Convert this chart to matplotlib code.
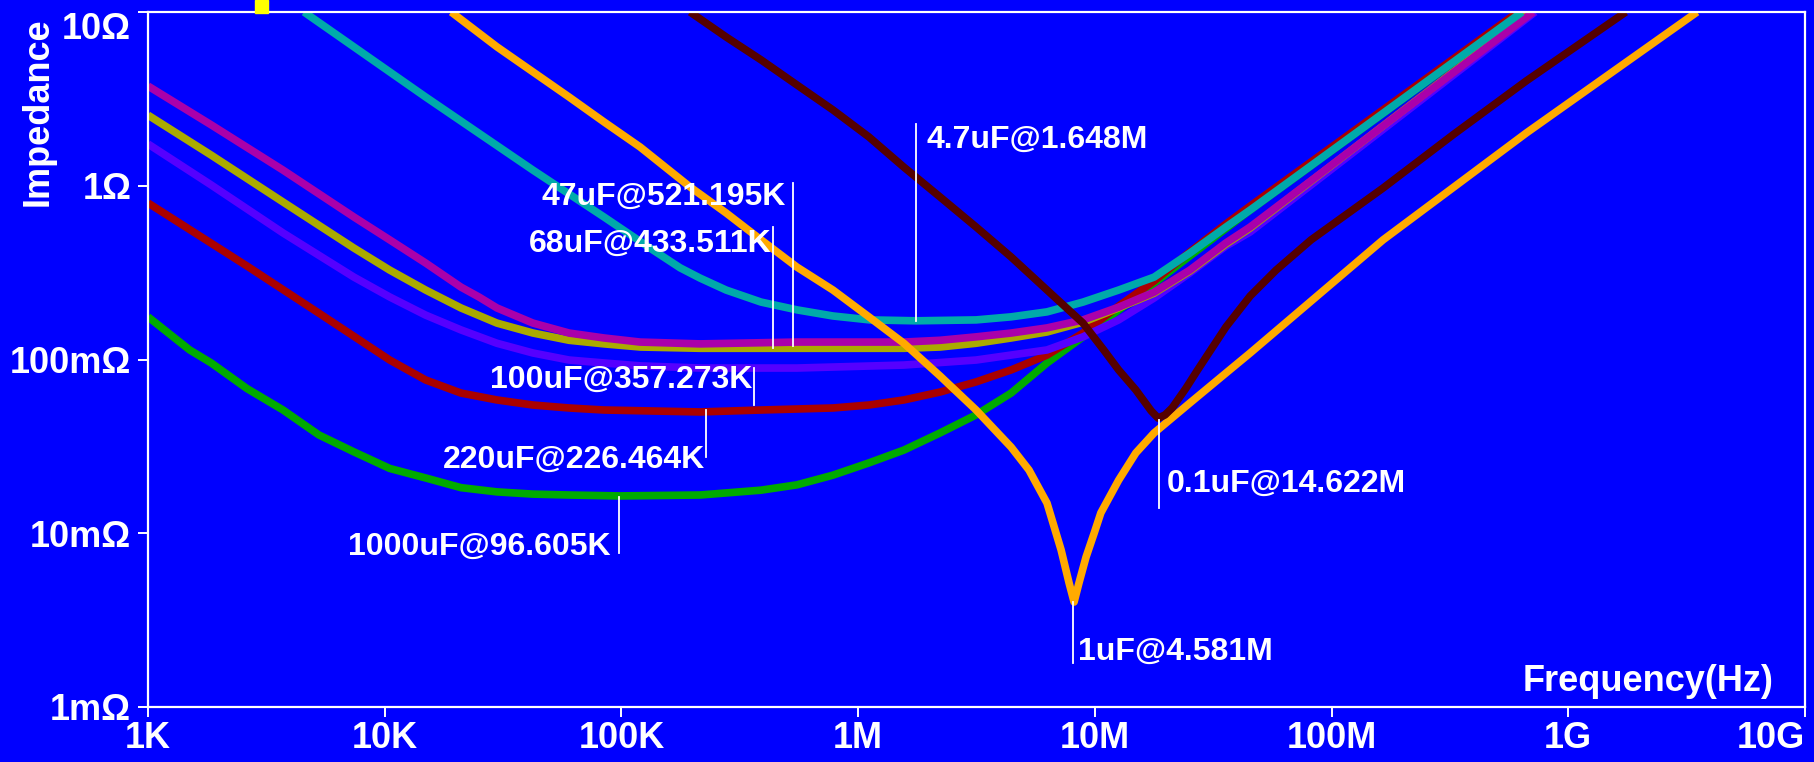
"""Capacitor impedance vs frequency, blue slide-style chart."""

import matplotlib
matplotlib.use("Agg")
import matplotlib.pyplot as plt
from matplotlib.patches import Rectangle
from matplotlib.ticker import FixedLocator, FixedFormatter, NullLocator

# ---- data (Hz, ohm) ----
f_1000u = [1.0e3, 1.5e3, 1.85e3, 2.62e3, 3.72e3, 5.27e3, 7.41e3, 1.05e4, 1.49e4, 2.10e4,
           2.98e4, 4.23e4, 6.01e4, 9.77e4, 2.15e5, 3.89e5, 5.52e5, 7.83e5, 1.11e6, 1.56e6,
           2.22e6, 3.15e6, 4.43e6, 6.28e6, 8.91e6, 1.57e7, 4.53e7, 6.38e8]
z_1000u = [0.176, 0.1135, 0.0955, 0.068, 0.0512, 0.0368, 0.0294, 0.0236, 0.0208, 0.0183,
           0.0173, 0.0168, 0.0166, 0.0164, 0.0166, 0.0177, 0.0190, 0.0216, 0.0254, 0.0301,
           0.0378, 0.048, 0.0641, 0.0955, 0.135, 0.241, 0.725, 10.0]

f_220u = [1.0e3, 2.62e3, 5.33e3, 7.41e3, 1.05e4, 1.49e4, 2.10e4, 2.98e4, 4.23e4, 6.01e4,
          8.44e4, 2.15e5, 3.89e5, 7.83e5, 1.11e6, 1.56e6, 2.22e6, 3.15e6, 4.43e6, 6.28e6,
          8.91e6, 1.26e7, 1.78e7, 2.52e7, 3.58e7, 4.53e7, 6.14e8]
z_220u = [0.796, 0.345, 0.183, 0.136, 0.0993, 0.0762, 0.0641, 0.0585, 0.0547, 0.0526,
          0.0512, 0.0499, 0.0512, 0.0526, 0.0547, 0.0585, 0.0650, 0.0743, 0.0871, 0.106,
          0.142, 0.203, 0.283, 0.416, 0.603, 0.764, 10.0]

f_100u = [1.0e3, 1.85e3, 3.72e3, 7.41e3, 1.05e4, 1.49e4, 2.10e4, 2.98e4, 4.23e4, 6.01e4,
          8.44e4, 1.20e5, 2.15e5, 5.52e5, 1.56e6, 3.15e6, 6.28e6, 8.91e6, 1.26e7, 1.78e7,
          2.52e7, 3.58e7, 4.53e7, 7.24e8]
z_100u = [1.74, 1.01, 0.535, 0.298, 0.229, 0.180, 0.148, 0.124, 0.109, 0.0993,
          0.0955, 0.0919, 0.0893, 0.0893, 0.0929, 0.0993, 0.1135, 0.135, 0.169, 0.226,
          0.315, 0.450, 0.542, 10.0]

f_68u = [1.0e3, 1.85e3, 3.72e3, 7.41e3, 1.05e4, 1.49e4, 2.10e4, 2.98e4, 4.23e4, 6.01e4,
         8.44e4, 1.20e5, 2.15e5, 1.56e6, 2.22e6, 3.15e6, 4.43e6, 6.28e6, 8.91e6, 1.26e7,
         1.78e7, 2.52e7, 3.58e7, 4.53e7, 6.97e8]
z_68u = [2.55, 1.50, 0.806, 0.438, 0.327, 0.251, 0.198, 0.162, 0.142, 0.129,
         0.123, 0.118, 0.116, 0.116, 0.118, 0.124, 0.133, 0.144, 0.164, 0.198,
         0.241, 0.323, 0.462, 0.571, 10.0]

f_47u = [1.0e3, 1.85e3, 3.72e3, 7.41e3, 1.05e4, 1.49e4, 2.10e4, 2.50e4, 2.98e4, 4.23e4,
         6.01e4, 8.44e4, 1.20e5, 2.15e5, 5.52e5, 1.56e6, 2.22e6, 3.15e6, 4.43e6, 6.28e6,
         8.91e6, 1.26e7, 1.78e7, 2.52e7, 3.58e7, 4.53e7, 7.10e8]
z_47u = [3.75, 2.24, 1.23, 0.661, 0.488, 0.359, 0.261, 0.229, 0.198, 0.162,
         0.142, 0.133, 0.126, 0.123, 0.126, 0.126, 0.129, 0.135, 0.142, 0.152,
         0.169, 0.200, 0.244, 0.327, 0.469, 0.579, 10.0]

f_4u7 = [4.56e3, 1.49e4, 4.23e4, 8.44e4, 1.32e5, 1.77e5, 2.15e5, 2.77e5, 3.89e5, 5.52e5,
         7.83e5, 1.12e6, 1.76e6, 3.15e6, 4.43e6, 6.28e6, 8.91e6, 1.26e7, 1.78e7, 2.52e7,
         3.58e7, 4.53e7, 6.38e8]
z_4u7 = [10.0, 3.24, 1.23, 0.661, 0.438, 0.337, 0.294, 0.251, 0.214, 0.193,
         0.178, 0.169, 0.167, 0.169, 0.176, 0.188, 0.214, 0.251, 0.298, 0.410,
         0.579, 0.725, 10.0]

f_1u = [1.91e4, 2.98e4, 4.23e4, 6.01e4, 8.44e4, 1.20e5, 1.95e5, 2.77e5, 3.89e5, 5.52e5,
        7.83e5, 1.11e6, 1.56e6, 2.22e6, 3.15e6, 4.43e6, 5.27e6, 6.28e6, 7.20e6, 7.78e6,
        8.17e6, 8.57e6, 9.18e6, 9.93e6, 1.06e7, 1.26e7, 1.49e7, 1.78e7, 2.52e7, 3.58e7,
        4.53e7, 1.65e8, 6.64e8, 3.50e9]
z_1u = [10.0, 6.30, 4.52, 3.24, 2.33, 1.67, 0.984, 0.697, 0.488, 0.340,
        0.251, 0.176, 0.124, 0.0803, 0.0512, 0.0313, 0.0231, 0.0149, 0.00802, 0.00518,
        0.00402, 0.00518, 0.00730, 0.0100, 0.0131, 0.0202, 0.0290, 0.0378, 0.0562, 0.0836,
        0.109, 0.488, 2.01, 10.0]

f_0u1 = [1.95e5, 2.77e5, 3.89e5, 5.52e5, 7.83e5, 1.11e6, 1.56e6, 2.22e6, 3.15e6, 4.43e6,
         6.28e6, 8.91e6, 1.09e7, 1.26e7, 1.49e7, 1.73e7, 1.85e7, 1.98e7, 2.12e7, 2.43e7,
         2.70e7, 3.01e7, 3.58e7, 4.53e7, 5.83e7, 8.19e7, 1.65e8, 3.30e8, 6.64e8, 1.75e9]
z_0u1 = [10.0, 7.18, 5.30, 3.80, 2.73, 1.91, 1.28, 0.861, 0.579, 0.389,
         0.251, 0.162, 0.1135, 0.0871, 0.0668, 0.0506, 0.0460, 0.0480, 0.0526, 0.0686,
         0.0859, 0.1076, 0.154, 0.232, 0.327, 0.488, 0.970, 1.99, 4.01, 10.0]

# resonance call-outs: text, line freq, line top/bottom, text anchor freq/Z, side
labels = ["4.7uF@1.648M", "47uF@521.195K", "68uF@433.511K", "100uF@357.273K",
          "220uF@226.464K", "1000uF@96.605K", "1uF@4.581M", "0.1uF@14.622M"]
label_f = [1.76e6, 5.31e5, 4.37e5, 3.63e5, 2.28e5, 9.77e4, 8.09e6, 1.87e7]
label_z_top = [2.26, 1.04, 0.579, 0.0893, 0.0512, 0.0162, 0.00402, 0.0449]
label_z_bot = [0.167, 0.120, 0.116, 0.0547, 0.0275, 0.00769, 0.00179, 0.0140]
text_f = [1.95e6, 4.96e5, 4.33e5, 3.58e5, 2.25e5, 9.04e4, 8.49e6, 2.02e7]
text_z = [1.83, 0.861, 0.463, 0.0762, 0.0264, 0.00834, 0.00208, 0.0192]
text_ha = ["left", "right", "right", "right", "right", "right", "left", "left"]

x_ticks = [1e3, 1e4, 1e5, 1e6, 1e7, 1e8, 1e9, 1e10]
x_ticklabels = ["1K", "10K", "100K", "1M", "10M", "100M", "1G", "10G"]
y_ticks = [1e-3, 1e-2, 1e-1, 1, 10]
y_ticklabels = ["1m\u03a9", "10m\u03a9", "100m\u03a9", "1\u03a9", "10\u03a9"]

BG = "#0000FF"
WHITE = "white"


def main():
    plt.rcParams.update({
        "font.family": ["Liberation Sans", "DejaVu Sans"],
        "font.weight": "bold",
    })

    fig = plt.figure(figsize=(18.14, 7.62), dpi=100, facecolor=BG)
    ax = fig.add_axes([148 / 1814, 1 - 707 / 762, 1657 / 1814, 695 / 762])
    ax.set_facecolor(BG)
    ax.set_xscale("log")
    ax.set_yscale("log")
    ax.set_xlim(1e3, 1e10)
    ax.set_ylim(1e-3, 10)

    curves = [
        (f_1000u, z_1000u, "#00AA00"),
        (f_220u, z_220u, "#AA0000"),
        (f_100u, z_100u, "#5500FF"),
        (f_68u, z_68u, "#AAAA00"),
        (f_47u, z_47u, "#AA00AA"),
        (f_4u7, z_4u7, "#00AAAA"),
        (f_1u, z_1u, "#FFAA00"),
        (f_0u1, z_0u1, "#550000"),
    ]
    for f, z, c in curves:
        ax.plot(f, z, color=c, lw=5.5, solid_capstyle="butt", solid_joinstyle="round")

    for i, txt in enumerate(labels):
        ax.plot([label_f[i], label_f[i]], [label_z_top[i], label_z_bot[i]],
                color=WHITE, lw=1.3)
        ax.text(text_f[i], text_z[i], txt, color=WHITE, fontsize=23, fontweight="bold",
                ha=text_ha[i], va="center")

    for spine in ax.spines.values():
        spine.set_color(WHITE)
        spine.set_linewidth(1.6)

    ax.xaxis.set_major_locator(FixedLocator(x_ticks))
    ax.xaxis.set_major_formatter(FixedFormatter(x_ticklabels))
    ax.yaxis.set_major_locator(FixedLocator(y_ticks))
    ax.yaxis.set_major_formatter(FixedFormatter(y_ticklabels))
    ax.xaxis.set_minor_locator(NullLocator())
    ax.yaxis.set_minor_locator(NullLocator())
    ax.tick_params(axis="both", colors=WHITE, direction="out", length=7, width=1.4,
                   labelsize=26)
    ax.tick_params(axis="x", pad=3)
    ax.tick_params(axis="y", pad=5)
    for lab in ax.get_xticklabels() + ax.get_yticklabels():
        lab.set_fontweight("bold")
    # keep the outer labels inside the figure, as in the reference
    ax.get_xticklabels()[-1].set_horizontalalignment("right")
    ax.get_yticklabels()[-1].set_verticalalignment("top")

    ax.text(0.981, 0.0374, "Frequency(Hz)", transform=ax.transAxes, color=WHITE,
            fontsize=26, fontweight="bold", ha="right", va="center")
    fig.text(0.021, 0.854, "Impedance", rotation=90, color=WHITE, fontsize=26,
             fontweight="bold", ha="center", va="center")

    # small yellow tab above the plot frame
    fig.patches.append(Rectangle((255 / 1814, 1 - 13 / 762), 13 / 1814, 13 / 762,
                                 transform=fig.transFigure, color="#FFFF00", zorder=5))

    fig.savefig("out.png", dpi=100, facecolor=BG)
    plt.close(fig)


if __name__ == "__main__":
    main()
